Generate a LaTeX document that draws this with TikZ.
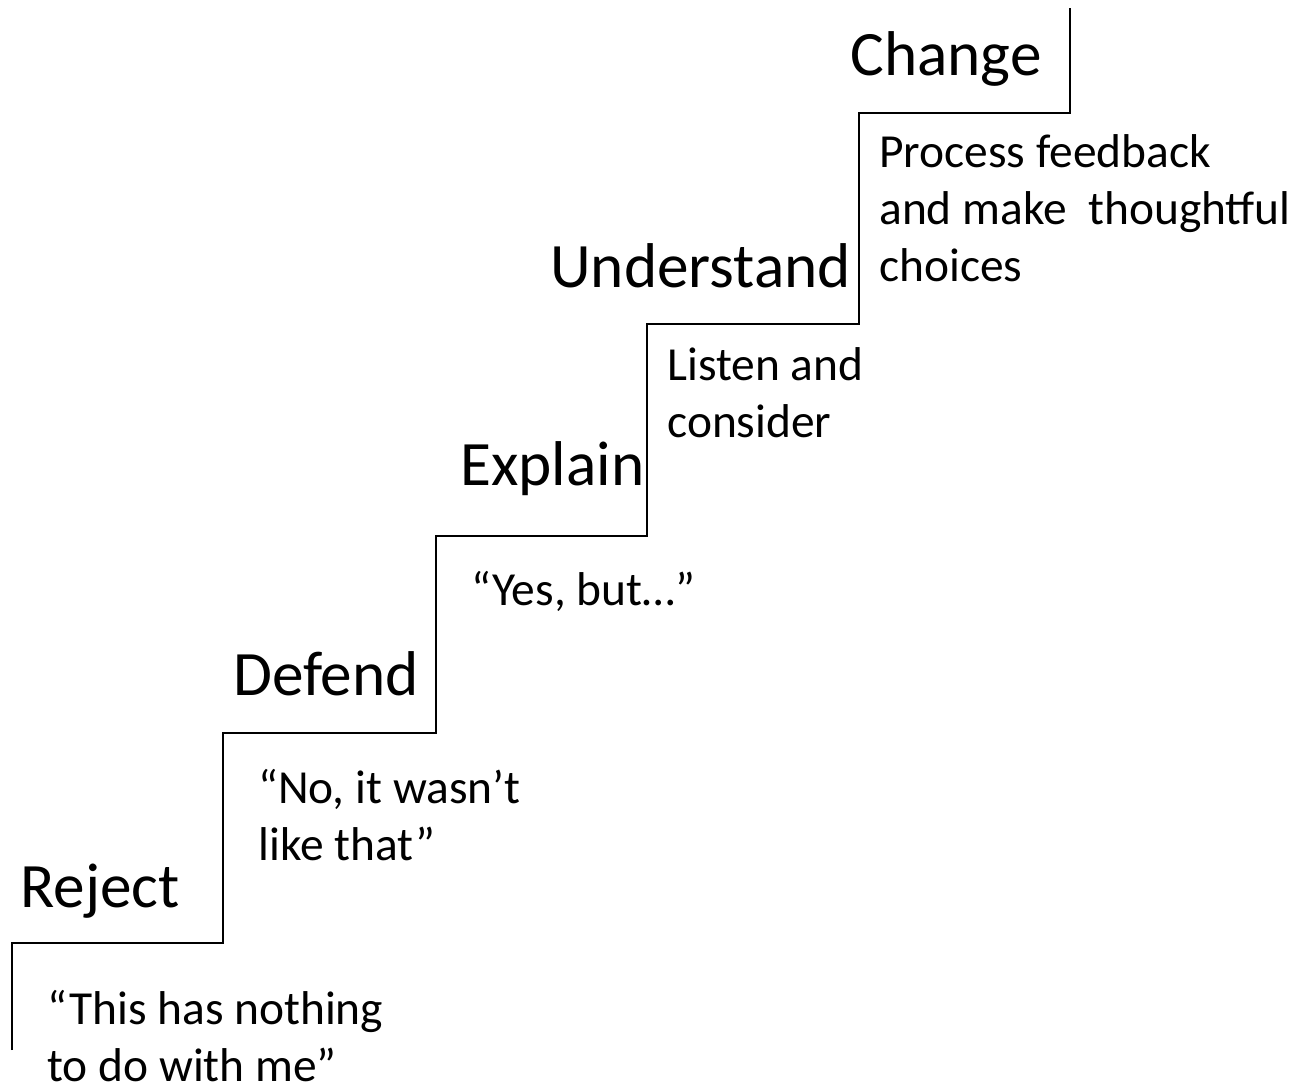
\documentclass[tikz,border=0pt]{standalone}
\usepackage{fontspec}
\setmainfont{Carlito}
\usetikzlibrary{positioning}

\begin{document}
\begin{tikzpicture}[x=0.02cm, y=-0.02cm]
        \tikzset{
            stage/.style={font=\fontsize{36}{43}\selectfont, inner sep=0pt, anchor=base west},
            remark/.style={font=\fontsize{27}{32.3}\selectfont, inner sep=0pt, align=left, anchor=base west},
            stair/.style={black, line width=1.1pt}
        }
        \useasboundingbox (0,0) rectangle (1310,1090);
        % corners of the staircase
        \coordinate (S0) at (12,1050);
        \coordinate (S1) at (223,943);
        \coordinate (S2) at (436,733);
        \coordinate (S3) at (647,536);
        \coordinate (S4) at (859,324);
        \coordinate (S5) at (1070,113);
        \coordinate (S6) at (1070,8);
        \draw[stair] (S0) |- (S1) |- (S2) |- (S3) |- (S4) |- (S5) -- (S6);
        % stages
        \node[stage] (reject) at (20,907) {Reject};
        \node[stage] (defend) at (233,695) {Defend};
        \node[stage] (explain) at (460,485) {Explain};
        \node[stage] (understand) at (550,287) {Understand};
        \node[stage] (change) at (850,75) {Change};
        % what is said on each step (base = last line)
        \node[remark] (nothing) at (47,1081) {“This has nothing\\to do with me”};
        \node[remark] (wasnt) at (258,860) {“No, it wasn’t\\like that”};
        \node[remark] (yesbut) at (471,605) {“Yes, but…”};
        \node[remark] (listen) at (667,437) {Listen and\\consider};
        \node[remark] (process) at (879,281) {Process feedback\\and make\ \ thoughtful\\choices};
    \end{tikzpicture}
\end{document}
